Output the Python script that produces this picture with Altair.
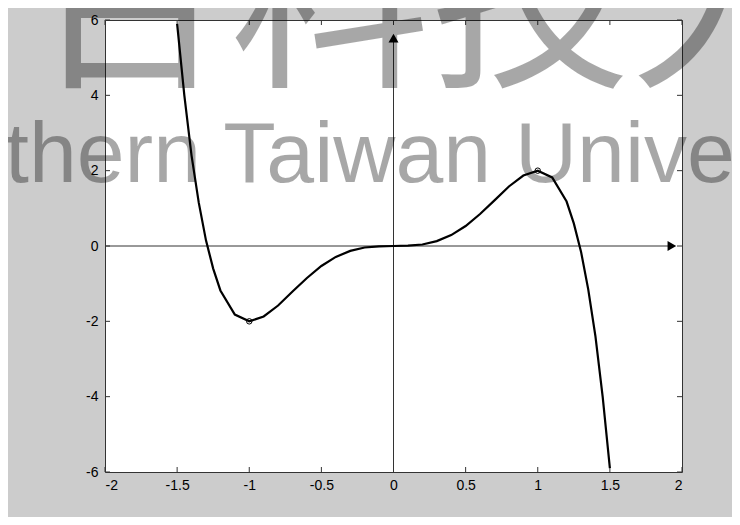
import altair as alt
import pandas as pd

# curve
curve_x = [-1.5, -1.45, -1.4, -1.35, -1.3, -1.25, -1.2, -1.1, -1.0, -0.9, -0.8, -0.7,
           -0.6, -0.5, -0.4, -0.3, -0.2, -0.1, 0.0, 0.1, 0.2, 0.3, 0.4, 0.5, 0.6,
           0.7, 0.8, 0.9, 1.0, 1.1, 1.2, 1.25, 1.3, 1.35, 1.4, 1.45, 1.5]
curve_y = [5.9, 4.0, 2.4, 1.15, 0.15, -0.6, -1.18, -1.82, -2.0, -1.87, -1.58, -1.21,
           -0.85, -0.53, -0.29, -0.13, -0.04, -0.01, 0.0, 0.01, 0.04, 0.13, 0.29, 0.53, 0.85,
           1.21, 1.58, 1.87, 2.0, 1.82, 1.18, 0.6, -0.15, -1.15, -2.4, -4.0, -5.9]

# marked extrema
extrema_x = [-1.0, 1.0]
extrema_y = [-2.0, 2.0]

# axis ticks
x_ticks = [-2, -1.5, -1, -0.5, 0, 0.5, 1, 1.5, 2]
y_ticks = [-6, -4, -2, 0, 2, 4, 6]

# coordinate axes through the origin (ends with arrow heads)
x_axis_end = 1.93
y_axis_end = 5.52

watermark_latin = "thern Taiwan Unive"
watermark_cjk = "南台科技大"

W, H = 577, 452
XD = [-2, 2]
YD = [-6, 6]

xs = alt.Scale(domain=XD, nice=False, zero=False)
ys = alt.Scale(domain=YD, nice=False, zero=False)

lab = dict(labelFont="Liberation Sans", labelFontSize=14, labelColor="#000000",
           ticks=False, domain=False, grid=False, title=None,
           labelExpr="toString(datum.value)")

curve_df = pd.DataFrame({"x": curve_x, "y": curve_y})

base_axes = alt.Chart(pd.DataFrame({"x": x_ticks[:1], "y": y_ticks[:1]})).mark_point(opacity=0).encode(
    x=alt.X("x:Q", scale=xs, axis=alt.Axis(values=x_ticks, labelPadding=6, **lab)),
    y=alt.Y("y:Q", scale=ys, axis=alt.Axis(values=y_ticks, labelPadding=7, **lab)),
)

xt = pd.DataFrame({"x": x_ticks})
yt = pd.DataFrame({"y": y_ticks})
tick_col = "#333333"
tb = alt.Chart(xt).mark_rule(color=tick_col, strokeWidth=1).encode(
    x=alt.X("x:Q", scale=xs), y=alt.value(H - 5), y2=alt.value(H))
tt = alt.Chart(xt).mark_rule(color=tick_col, strokeWidth=1).encode(
    x=alt.X("x:Q", scale=xs), y=alt.value(0), y2=alt.value(5))
tl = alt.Chart(yt).mark_rule(color=tick_col, strokeWidth=1).encode(
    y=alt.Y("y:Q", scale=ys), x=alt.value(0), x2=alt.value(5))
tr = alt.Chart(yt).mark_rule(color=tick_col, strokeWidth=1).encode(
    y=alt.Y("y:Q", scale=ys), x=alt.value(W - 5), x2=alt.value(W))

hline = alt.Chart(pd.DataFrame({"x": [XD[0]], "x2": [x_axis_end], "y": [0]})).mark_rule(
    color="#333333", strokeWidth=1).encode(
    x=alt.X("x:Q", scale=xs), x2="x2:Q", y=alt.Y("y:Q", scale=ys))
vline = alt.Chart(pd.DataFrame({"y": [YD[0]], "y2": [y_axis_end], "x": [0]})).mark_rule(
    color="#333333", strokeWidth=1).encode(
    y=alt.Y("y:Q", scale=ys), y2="y2:Q", x=alt.X("x:Q", scale=xs))

arrow_r = alt.Chart(pd.DataFrame({"x": [x_axis_end], "y": [0]})).mark_point(
    shape="triangle-right", filled=True, color="#000000", size=100, opacity=1).encode(
    x=alt.X("x:Q", scale=xs), y=alt.Y("y:Q", scale=ys))
arrow_u = alt.Chart(pd.DataFrame({"x": [0], "y": [y_axis_end]})).mark_point(
    shape="triangle-up", filled=True, color="#000000", size=100, opacity=1).encode(
    x=alt.X("x:Q", scale=xs), y=alt.Y("y:Q", scale=ys))

wm1 = alt.Chart(pd.DataFrame({"t": [watermark_latin]})).mark_text(
    font="Liberation Sans", fontSize=86, color="#000000", opacity=0.34,
    align="left", baseline="alphabetic").encode(
    x=alt.value(-100), y=alt.value(162), text="t:N")
wm2 = alt.Chart(pd.DataFrame({"t": [watermark_cjk]})).mark_text(
    font="Noto Sans CJK TC", fontSize=200, fontWeight="normal", color="#000000", opacity=0.34,
    align="left", baseline="alphabetic").encode(
    x=alt.value(-275), y=alt.value(52), text="t:N")

line = alt.Chart(curve_df).mark_line(color="#000000", strokeWidth=2.2, clip=True).encode(
    x=alt.X("x:Q", scale=xs), y=alt.Y("y:Q", scale=ys), order="x:Q")

ext = alt.Chart(pd.DataFrame({"x": extrema_x, "y": extrema_y})).mark_point(
    shape="circle", filled=False, color="#000000", size=30, strokeWidth=1, opacity=1).encode(
    x=alt.X("x:Q", scale=xs), y=alt.Y("y:Q", scale=ys))

chart = alt.layer(base_axes, tb, tt, tl, tr, hline, vline, arrow_r, arrow_u,
                  wm2, wm1, line, ext).properties(
    width=W, height=H,
    autosize=alt.AutoSizeParams(type="none"),
    padding={"left": 97, "top": 12, "right": 50, "bottom": 45},
    background="#cccccc",
).configure_view(fill="#ffffff", stroke="#333333", strokeWidth=1)

chart.save("out.html", embed_options={"renderer": "svg", "actions": False})
